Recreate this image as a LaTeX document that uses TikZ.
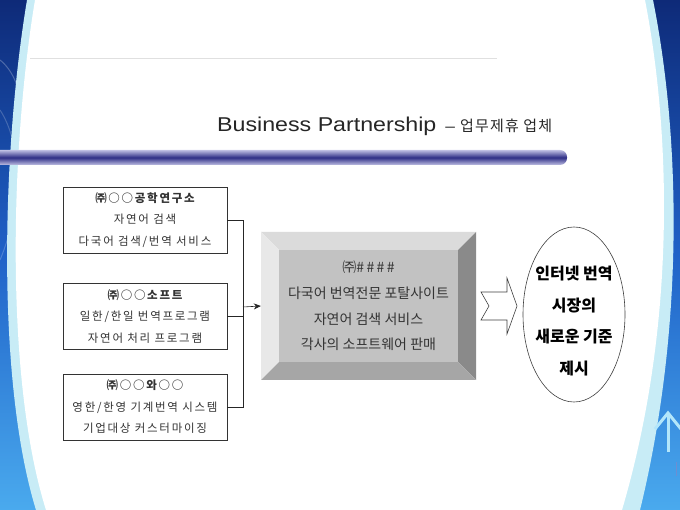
\documentclass[tikz,border=0pt]{standalone}
\usepackage{fontspec}
\setmainfont{Liberation Sans}
\newfontfamily\kr[LetterSpace=15]{Noto Sans CJK KR}
\newfontfamily\krt[LetterSpace=8]{Noto Sans CJK KR}
\newfontfamily\krc{Noto Sans CJK KR}
\newfontfamily\titlefont[FakeStretch=1.16]{Liberation Sans}
\usetikzlibrary{positioning,arrows.meta,shapes}
\usepackage{xcolor}
\definecolor{navy}{HTML}{0E2A78}
\definecolor{midblue}{HTML}{1F62C8}
\definecolor{skyblue}{HTML}{4AAAEE}
\definecolor{paleband}{HTML}{C8ECF6}
\definecolor{barblue}{HTML}{2E2E86}
\definecolor{barpale}{HTML}{C0C0E4}
\definecolor{txtgray}{HTML}{333333}

\begin{document}
\begin{tikzpicture}[x=1pt, y=-1pt,
    partner/.style={draw=black!80, line width=0.6pt, fill=white, minimum width=164pt, minimum height=66pt,
        align=center, text=txtgray, font=\kr\fontsize{11.5}{21.5}\selectfont},
    link/.style={line width=0.6pt, black!85}]
        \useasboundingbox (0,0) rectangle (680,510);
        \clip (0,0) rectangle (680,510);

        % Background
        \shade[top color=navy, bottom color=skyblue, middle color=midblue] (0,0) rectangle (680,510);
        \draw[white, opacity=0.25, line width=1pt] (0,60) .. controls (25,80) and (30,130) .. (10,190);
        \draw[white, opacity=0.2, line width=1pt] (0,110) .. controls (20,140) and (25,200) .. (0,260);
        \fill[paleband] (27,0) .. controls (2,150) and (-4,380) .. (36,510) -- (640,510) .. controls (684,330) and (681,140) .. (653,0) -- cycle;
        \fill[white] (35,0) .. controls (10,150) and (5,380) .. (46,510) -- (622,510) .. controls (675,330) and (672,140) .. (645,0) -- cycle;
        \draw[cyan!30, line width=3pt] (668,452) -- (668,413);
        \draw[cyan!30, line width=3pt] (655,429) -- (668,413) -- (681,429);
        \draw[cyan!40!blue!60, line width=1pt] (676,476) -- (676,462);

        % Header
        \draw[black!12, line width=0.8pt] (30,58) -- (497,58);
        \node[anchor=base west, inner sep=0pt, text=black!85] (title) at (217,132)
            {\titlefont\fontsize{20}{24}\selectfont Business Partnership\hspace{9pt}{\fontsize{15}{16}\selectfont –\hspace{5pt}\krt 업무제휴 업체}};
        \shade[top color=barpale, bottom color=barpale, middle color=barblue, rounded corners=7pt] (-20,150) rectangle (567,165);

        % Partners
        \node[partner] (lab) at (145,220) {{\bfseries ㈜○○공학연구소}\\자연어 검색\\다국어 검색/번역 서비스};
        \node[partner] (soft) at (145,316.5) {{\bfseries ㈜○○소프트}\\일한/한일 번역프로그램\\자연어 처리 프로그램};
        \node[partner] (wa) at (145,407) {{\bfseries ㈜○○와○○}\\영한/한영 기계번역 시스템\\기업대상 커스터마이징};

        % Portal (bevelled box)
        \fill[black!14] (261,232) -- (476,232) -- (458,250) -- (279,250) -- cycle;
        \fill[black!9] (261,232) -- (279,250) -- (279,362) -- (261,380) -- cycle;
        \fill[black!46] (476,232) -- (476,380) -- (458,362) -- (458,250) -- cycle;
        \fill[black!35] (261,380) -- (476,380) -- (458,362) -- (279,362) -- cycle;
        \fill[black!24] (279,250) rectangle (458,362);
        \node[minimum width=215pt, minimum height=148pt, align=center, text=txtgray,
            font=\krc\fontsize{14}{25.7}\selectfont] (portal) at (368.5,306)
            {㈜\#\,\#\,\#\,\#\\다국어 번역전문 포탈사이트\\자연어 검색 서비스\\각사의 소프트웨어 판매};

        % Connectors
        \coordinate (bus) at (243,307);
        \draw[link] (lab.east) -- ++(16,0) |- (wa.east);
        \draw[link] (soft.east) -- ++(16,0);
        \draw[link, ->, >={Stealth[length=7pt, width=6pt]}] (bus) -- (portal.west);

        % Result
        \draw[draw=black!75, fill=white, line width=0.6pt] (481,292) -- (507,292) -- (507,278) -- (517,306) -- (507,334) -- (507,320) -- (481,320) -- (489,306) -- cycle;
        \node[ellipse, draw=black!75, line width=0.6pt, minimum width=102pt, minimum height=175pt] (goal) at (574,314.5) {};
        \node[align=center, font=\krc\bfseries\fontsize{16}{31.5}\selectfont] (goaltext) at (574,321)
            {인터넷 번역\\시장의\\새로운 기준\\제시};
    \end{tikzpicture}
\end{document}
